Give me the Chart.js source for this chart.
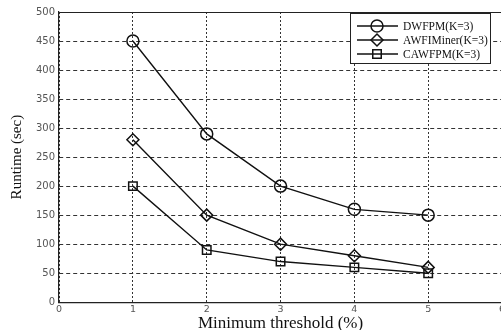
<!DOCTYPE html>
<html>
<head>
<meta charset="utf-8">
<script src="https://cdn.jsdelivr.net/npm/chart.js@4/dist/chart.umd.min.js"></script>
<style>
  html, body { margin: 0; padding: 0; background: #fff; overflow: hidden; }
  #wrap { width: 520px; height: 330px; }
</style>
</head>
<body>
<div id="wrap"><canvas id="chart"></canvas></div>
<script>
const thresholds = [1, 2, 3, 4, 5];
const dwfpm = [450, 290, 200, 160, 150];
const awfiMiner = [280, 150, 100, 80, 60];
const cawfpm = [200, 90, 70, 60, 50];
const seriesLabels = ["DWFPM(K=3)", "AWFIMiner(K=3)", "CAWFPM(K=3)"];
const markers = ["circle", "rectRot", "rect"];

const toPoints = vals => thresholds.map((x, i) => ({ x, y: vals[i] }));

// legend drawn inside the plot, top right + solid top border
const boxLegend = {
  id: "boxLegend",
  beforeDatasetsDraw(chart) {
    const { ctx, chartArea: a } = chart;
    ctx.save();
    ctx.strokeStyle = "#222";
    ctx.lineWidth = 1;
    ctx.beginPath();
    ctx.moveTo(a.left, a.top + 0.5);
    ctx.lineTo(a.right, a.top + 0.5);
    ctx.stroke();
    ctx.restore();
  },
  afterDatasetsDraw(chart) {
    const ctx = chart.ctx;
    const x0 = 350, y0 = 13, w = 140, h = 50;
    ctx.save();
    ctx.fillStyle = "#fff";
    ctx.fillRect(x0, y0, w, h);
    ctx.strokeStyle = "#222";
    ctx.lineWidth = 1;
    ctx.strokeRect(x0 + 0.5, y0 + 0.5, w, h);
    chart.data.datasets.forEach((ds, i) => {
      const y = y0 + 13 + i * 14;
      ctx.strokeStyle = "#111";
      ctx.lineWidth = 1.3;
      ctx.beginPath();
      ctx.moveTo(357, y);
      ctx.lineTo(398, y);
      ctx.stroke();
      ctx.fillStyle = "rgba(0,0,0,0)";
      ctx.lineWidth = 1.5;
      Chart.helpers.drawPoint(ctx, { pointStyle: ds.pointStyle, radius: 6, borderWidth: 1.5 }, 377, y);
      ctx.fillStyle = "#111";
      ctx.font = "11.5px 'Liberation Serif', serif";
      ctx.textBaseline = "middle";
      ctx.fillText(ds.label, 403, y + 1);
    });
    ctx.restore();
  }
};

const datasets = [dwfpm, awfiMiner, cawfpm].map((vals, i) => ({
  label: seriesLabels[i],
  data: toPoints(vals),
  borderColor: "#111",
  borderWidth: 1.4,
  pointStyle: markers[i],
  pointRadius: 6,
  pointBorderWidth: 1.5,
  pointBackgroundColor: "rgba(0,0,0,0)",
  pointBorderColor: "#111",
  tension: 0,
  fill: false
}));

new Chart(document.getElementById("chart"), {
  type: "line",
  data: { datasets },
  plugins: [boxLegend],
  options: {
    responsive: true,
    maintainAspectRatio: false,
    animation: false,
    layout: { padding: { top: 12, right: 18, left: 8, bottom: -4 } },
    plugins: { legend: { display: false }, tooltip: { enabled: false } },
    scales: {
      x: {
        type: "linear",
        min: 0, max: 6,
        ticks: { stepSize: 1, color: "#555", font: { size: 9.5, family: "'DejaVu Sans', sans-serif" }, padding: 2 },
        grid: { color: "#333", lineWidth: 1, drawTicks: false },
        border: { color: "#222", width: 1.2, dash: [2, 2] },
        title: { display: true, text: "Minimum threshold (%)", color: "#111", font: { size: 17, family: "'Liberation Serif', serif" }, padding: { top: -4, bottom: 0 } }
      },
      y: {
        min: 0, max: 500,
        ticks: { stepSize: 50, color: "#555", font: { size: 10, family: "'DejaVu Sans', sans-serif" }, padding: 4 },
        grid: { color: "#333", lineWidth: 1, drawTicks: false },
        border: { color: "#222", width: 1.2, dash: [4, 3] },
        title: { display: true, text: "Runtime (sec)", color: "#111", font: { size: 15, family: "'Liberation Serif', serif" }, padding: { top: 0, bottom: 6 } }
      }
    }
  }
});
</script>
</body>
</html>
